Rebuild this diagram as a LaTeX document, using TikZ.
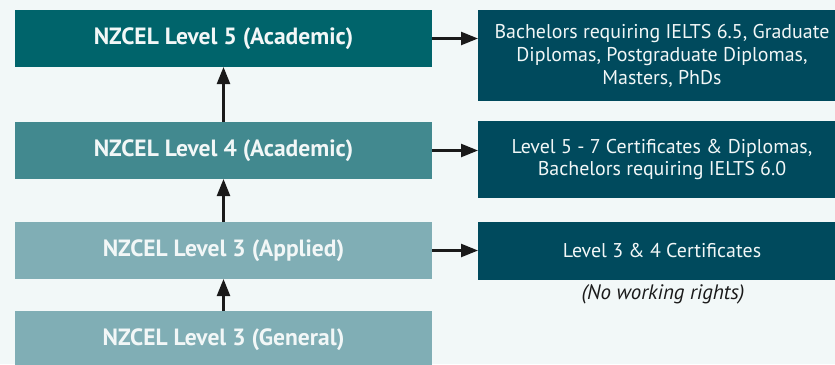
\documentclass[tikz,border=0pt]{standalone}
\usepackage{fontspec}
\setmainfont{PT Sans}
\usetikzlibrary{arrows.meta}
\definecolor{bgc}{HTML}{F2F8F8}
\definecolor{cfive}{HTML}{00646B}
\definecolor{cfour}{HTML}{42898F}
\definecolor{cthree}{HTML}{80AEB5}
\definecolor{cright}{HTML}{004A5D}
\definecolor{ctext}{HTML}{F2F7F7}
\definecolor{carrow}{HTML}{1A1A1A}
\tikzset{
  lbox/.style={inner sep=0pt, outer sep=0pt, minimum width=417bp, minimum height=57bp, text=ctext, font=\fontsize{23.6}{27}\selectfont\bfseries},
  rbox/.style={inner sep=0pt, outer sep=0pt, minimum width=368bp, text=ctext, fill=cright, align=center, font=\fontsize{20}{23}\selectfont},
  conn/.style={draw=carrow, line width=2.4bp, -{Triangle[length=17bp,width=13bp]}},
}
\begin{document}
\begin{tikzpicture}[x=1bp,y=-1bp]
\fill[bgc] (0,0) rectangle (835,364);
\useasboundingbox (0,0) rectangle (835,364);
\node[lbox, fill=cfive] (l5) at (223.5,38.5) {NZCEL Level 5 (Academic)};
\node[lbox, fill=cfour] (l4) at (223.5,150.5) {NZCEL Level 4 (Academic)};
\node[lbox, fill=cthree] (l3a) at (223.5,250.5) {NZCEL Level 3 (Applied)};
\node[lbox, fill=cthree] (l3g) at (223.5,339.5) {NZCEL Level 3 (General)};
\node[rbox, minimum height=91bp] (r1) at (662,55.5) {Bachelors requiring IELTS 6.5, Graduate\\Diplomas, Postgraduate Diplomas,\\Masters, PhDs};
\node[rbox, minimum height=77bp] (r2) at (662,159.5) {Level 5 - 7 Certificates \& Diplomas,\\Bachelors requiring IELTS 6.0};
\node[rbox, minimum height=58bp] (r3) at (662,251) {Level 3 \& 4 Certificates};
\node[inner sep=0pt, text=carrow, font=\fontsize{21}{24}\selectfont\itshape] (note) at (663,294) {(No working rights)};
\draw[conn] (l4.north) -- (l5.south);
\draw[conn] (l3a.north) -- (l4.south);
\draw[conn] (l3g.north) -- (l3a.south);
\draw[conn] (l5.east) -- (l5.east -| r1.west);
\draw[conn] (l4.east) -- (l4.east -| r2.west);
\draw[conn] (l3a.east) -- (l3a.east -| r3.west);
\end{tikzpicture}
\end{document}
